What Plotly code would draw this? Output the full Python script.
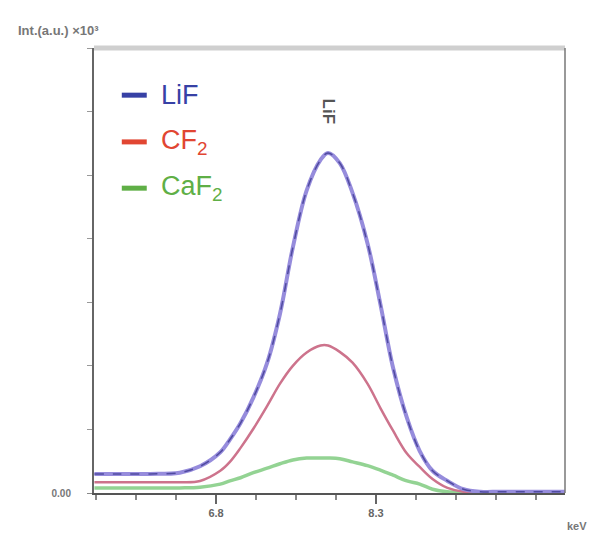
import plotly.graph_objects as go

# ---- data ----
x_kev = [5.66, 5.90, 6.18, 6.46, 6.65, 6.84, 6.93, 7.03, 7.15, 7.28, 7.40, 7.52, 7.65, 7.78,
         7.85, 7.96, 8.08, 8.22, 8.34, 8.46, 8.59, 8.71, 8.83, 8.97, 9.12, 9.28, 9.46, 9.74, 10.07]
lif = [0.30, 0.30, 0.30, 0.32, 0.42, 0.64, 0.84, 1.10, 1.50, 2.05, 2.82, 3.86, 4.76, 5.24,
       5.35, 5.19, 4.72, 3.93, 2.98, 1.97, 1.18, 0.66, 0.35, 0.19, 0.06, 0.02, 0.02, 0.02, 0.02]
cf2 = [0.17, 0.17, 0.17, 0.17, 0.19, 0.35, 0.49, 0.71, 1.01, 1.37, 1.72, 2.00, 2.21, 2.32,
       2.32, 2.22, 2.05, 1.72, 1.34, 0.98, 0.62, 0.41, 0.22, 0.08, 0.02, 0.02, 0.02, 0.02, 0.02]
caf2 = [0.08, 0.08, 0.08, 0.08, 0.09, 0.14, 0.19, 0.24, 0.32, 0.39, 0.46, 0.52, 0.55, 0.55,
        0.55, 0.54, 0.49, 0.43, 0.36, 0.28, 0.19, 0.14, 0.06, 0.02, 0.02, 0.02, 0.02, 0.02, 0.02]
series_names = ["LiF", "CF<sub>2</sub>", "CaF<sub>2</sub>"]
legend_colors = ["rgb(55,65,165)", "rgb(225,70,50)", "rgb(95,175,70)"]
xtick_vals = [6.8, 8.3]
xtick_text = ["6.8", "8.3"]
peak_label = "LiF"
peak_x = 7.85

fig = go.Figure()
fig.add_trace(go.Scatter(x=x_kev, y=caf2, mode="lines", showlegend=False,
                         line=dict(color="rgba(120,200,120,0.8)", width=3.5, shape="spline")))
fig.add_trace(go.Scatter(x=x_kev, y=cf2, mode="lines", showlegend=False,
                         line=dict(color="rgb(205,115,140)", width=2.5, shape="spline")))
fig.add_trace(go.Scatter(x=x_kev, y=lif, mode="lines", showlegend=False,
                         line=dict(color="rgb(150,140,220)", width=4, shape="spline")))
fig.add_trace(go.Scatter(x=x_kev, y=lif, mode="lines", showlegend=False,
                         line=dict(color="rgb(80,75,160)", width=1.5, dash="dash", shape="spline")))

fig.update_layout(
    width=599, height=534,
    margin=dict(l=94, r=34, t=48, b=41),
    plot_bgcolor="white", paper_bgcolor="white",
    font=dict(family="Liberation Sans, Arial, sans-serif"),
    xaxis=dict(range=[5.656, 10.072], showgrid=False, zeroline=False,
               showline=True, linecolor="#555", linewidth=2,
               ticks="outside", ticklen=9, tickwidth=2, tickcolor="#666",
               tickvals=xtick_vals, ticktext=["<b>%s</b>" % t for t in xtick_text],
               tickfont=dict(size=11, color="#666"),
               minor=dict(ticks="outside", ticklen=5, tickcolor="#888", tick0=6.8, dtick=0.375)),
    yaxis=dict(range=[0, 7.0], showgrid=False, zeroline=False,
               showline=True, linecolor="#666", linewidth=2,
               ticks="outside", ticklen=5, tickcolor="#888",
               tickvals=[0], ticktext=["<b>0.00</b>"], ticklabelstandoff=14,
               tickfont=dict(size=10, color="#777"),
               minor=dict(ticks="outside", ticklen=5, tickcolor="#999", tick0=0, dtick=1)),
)

# frame top / right
fig.add_shape(type="line", xref="paper", yref="paper", x0=0, x1=1, y0=1, y1=1,
              line=dict(color="#cfcfcf", width=5))
fig.add_shape(type="line", xref="paper", yref="paper", x0=1, x1=1, y0=0, y1=1,
              line=dict(color="#777", width=1.5))

# legend (keys + labels)
leg_y = [0.894, 0.789, 0.685]
for name, col, yy in zip(series_names, legend_colors, leg_y):
    fig.add_shape(type="line", xref="paper", yref="paper", x0=0.059, x1=0.112, y0=yy, y1=yy,
                  line=dict(color=col, width=5))
    fig.add_annotation(xref="paper", yref="paper", x=0.138, y=yy, xanchor="left", yanchor="middle",
                       text=name, showarrow=False, font=dict(size=27, color=col))

# peak label
fig.add_annotation(x=peak_x, y=6.0, text="<b>%s</b>" % peak_label, textangle=90, showarrow=False,
                   font=dict(size=17, color="#555"))

# axis captions
fig.add_annotation(xref="paper", yref="paper", x=-0.165, y=1.04, xanchor="left", yanchor="middle",
                   text="<b>Int.(a.u.) ×10³</b>", showarrow=False, font=dict(size=13, color="#777"))
fig.add_annotation(xref="paper", yref="paper", x=1.0, y=-0.075, xanchor="left", yanchor="middle",
                   text="<b>keV</b>", showarrow=False, font=dict(size=11, color="#777"))

fig.write_html("out.html")
